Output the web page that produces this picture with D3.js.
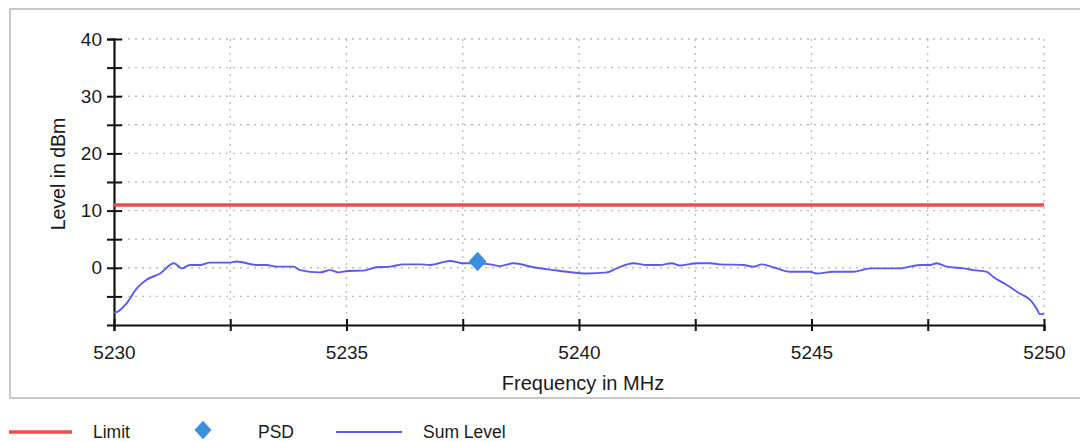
<!DOCTYPE html>
<html><head><meta charset="utf-8">
<script src="https://cdn.jsdelivr.net/npm/d3@7"></script>
<style>html,body{margin:0;padding:0;background:#fff;}svg{display:block;font-family:"Liberation Sans",Arial,sans-serif;}</style>
</head><body><svg id="c" width="1080" height="442"></svg>
<script>
const sumFreq = [5230,5230.07,5230.27,5230.49,5230.70,5230.99,5231.29,5231.46,5231.63,5231.85,5232.06,5232.46,5232.64,5233.07,5233.28,5233.50,5233.86,5234.0,5234.43,5234.65,5234.82,5235.04,5235.36,5235.65,5235.94,5236.22,5236.58,5236.80,5237.23,5237.51,5237.8,5238.09,5238.30,5238.59,5239.02,5239.45,5239.74,5240.17,5240.6,5240.81,5241.17,5241.46,5241.74,5241.99,5242.17,5242.53,5242.82,5243.03,5243.53,5243.75,5243.93,5244.18,5244.54,5244.97,5245.11,5245.47,5245.9,5246.26,5246.9,5247.33,5247.55,5247.69,5247.91,5248.27,5248.48,5248.77,5248.91,5249.20,5249.48,5249.70,5249.84,5249.91,5250];
const sumLevel = [-7.85,-7.7,-6.2,-3.6,-2.1,-1.0,0.8,-0.1,0.5,0.5,0.9,0.9,1.1,0.5,0.5,0.2,0.2,-0.4,-0.8,-0.4,-0.8,-0.55,-0.5,0.1,0.2,0.6,0.6,0.5,1.2,0.8,0.8,0.6,0.3,0.8,0.1,-0.4,-0.7,-1.0,-0.8,-0.1,0.8,0.5,0.5,0.8,0.4,0.8,0.8,0.6,0.5,0.2,0.6,0.1,-0.7,-0.7,-1.0,-0.7,-0.7,-0.1,-0.1,0.5,0.5,0.8,0.2,-0.1,-0.4,-0.7,-1.6,-3.0,-4.5,-5.6,-7.1,-8.1,-8.1];
const limitFreq = [5230,5250];
const limitLevel = [11,11];
const psdFreq = [5237.82];
const psdLevel = [1.1];
const xTickLabels = [5230,5235,5240,5245,5250];
const xMinorTicks = [5232.5,5237.5,5242.5,5247.5];
const yTickLabels = [0,10,20,30,40];
const yMinorTicks = [-5,5,15,25,35];
const legendLabels = ["Limit","PSD","Sum Level"];

const svg = d3.select("#c");
const x = d3.scaleLinear().domain([5230,5250]).range([114,1044]);
const y = d3.scaleLinear().domain([-10,40]).range([325,39]);

// outer frame
svg.append("rect").attr("x",10).attr("y",9).attr("width",1090).attr("height",389)
  .attr("fill","none").attr("stroke","#c8c8c8").attr("stroke-width",2);

// grid
const g = svg.append("g");
const gridX = xMinorTicks.concat(xTickLabels.slice(1));
g.selectAll(".gx").data(gridX).enter().append("line")
  .attr("x1",d=>x(d)).attr("x2",d=>x(d)).attr("y1",y(40)).attr("y2",y(-10))
  .attr("stroke","#bdbdbd").attr("stroke-width",1.4).attr("stroke-dasharray","2,5");
const gridY = yMinorTicks.concat(yTickLabels);
g.selectAll(".gy").data(gridY).enter().append("line")
  .attr("x1",x(5230)).attr("x2",x(5250)).attr("y1",d=>y(d)).attr("y2",d=>y(d))
  .attr("stroke","#bdbdbd").attr("stroke-width",1.4).attr("stroke-dasharray","2,5");

// axes
const xAxis = d3.axisBottom(x).tickValues(xTickLabels.concat(xMinorTicks))
  .tickFormat(d=> xTickLabels.includes(d) ? d3.format("d")(d) : "").tickSize(6).tickPadding(15);
const xa = svg.append("g").attr("transform",`translate(0,${y(-10)})`).call(xAxis);
xa.select(".domain").attr("stroke","#111").attr("stroke-width",2.2);
xa.selectAll(".tick line").attr("y1",-6).attr("y2",6).attr("stroke","#111").attr("stroke-width",2);
xa.selectAll(".tick text").attr("font-size",19).attr("fill","#1a1a1a").attr("font-family","Liberation Sans, Arial, sans-serif");

const yAxis = d3.axisLeft(y).tickValues(yTickLabels.concat(yMinorTicks))
  .tickFormat(d=> yTickLabels.includes(d) ? d : "").tickSize(7).tickPadding(5);
const ya = svg.append("g").attr("transform",`translate(${x(5230)},0)`).call(yAxis);
ya.select(".domain").attr("stroke","#111").attr("stroke-width",2.2);
ya.selectAll(".tick line").attr("x1",-7).attr("x2",8).attr("stroke","#111").attr("stroke-width",2);
ya.selectAll(".tick text").attr("font-size",19).attr("fill","#1a1a1a").attr("font-family","Liberation Sans, Arial, sans-serif");

// titles
svg.append("text").attr("x",583).attr("y",390).attr("text-anchor","middle")
  .attr("font-size",20).attr("fill","#1a1a1a").text("Frequency in MHz");
svg.append("text").attr("transform","translate(65,174) rotate(-90)").attr("text-anchor","middle")
  .attr("font-size",19.5).attr("fill","#1a1a1a").text("Level in dBm");

// limit line
const lineGen = d3.line().x(d=>x(d[0])).y(d=>y(d[1])).curve(d3.curveMonotoneX);
svg.append("path").datum(limitFreq.map((f,i)=>[f,limitLevel[i]]))
  .attr("d",lineGen).attr("fill","none").attr("stroke","#f04a4e").attr("stroke-width",3.5);

// sum level
svg.append("path").datum(sumFreq.map((f,i)=>[f,sumLevel[i]]))
  .attr("d",lineGen).attr("fill","none").attr("stroke","#5a5aee").attr("stroke-width",1.9).attr("stroke-linejoin","round");

// PSD
const diamond = d3.symbol().type(d3.symbolSquare).size(160);
svg.selectAll(".psd").data(psdFreq.map((f,i)=>[f,psdLevel[i]])).enter().append("path")
  .attr("d",diamond).attr("transform",d=>`translate(${x(d[0])},${y(d[1])}) scale(1,1.1) rotate(45)`)
  .attr("fill","#3b8fdd");

// legend
const ly = 432;
const lg = svg.append("g");
lg.append("line").attr("x1",9).attr("x2",72).attr("y1",ly).attr("y2",ly).attr("stroke","#f04a4e").attr("stroke-width",3.5);
lg.append("text").attr("x",93).attr("y",ly+6).attr("font-size",17.5).attr("fill","#1a1a1a").text(legendLabels[0]);
lg.append("path").attr("d",d3.symbol().type(d3.symbolSquare).size(145)).attr("transform",`translate(203,${ly-2}) scale(1,1.1) rotate(45)`).attr("fill","#3b8fdd");
lg.append("text").attr("x",258).attr("y",ly+6).attr("font-size",17.5).attr("fill","#1a1a1a").text(legendLabels[1]);
lg.append("line").attr("x1",336).attr("x2",402).attr("y1",ly).attr("y2",ly).attr("stroke","#5a5aee").attr("stroke-width",1.8);
lg.append("text").attr("x",423).attr("y",ly+6).attr("font-size",17.5).attr("fill","#1a1a1a").text(legendLabels[2]);
</script></body></html>
